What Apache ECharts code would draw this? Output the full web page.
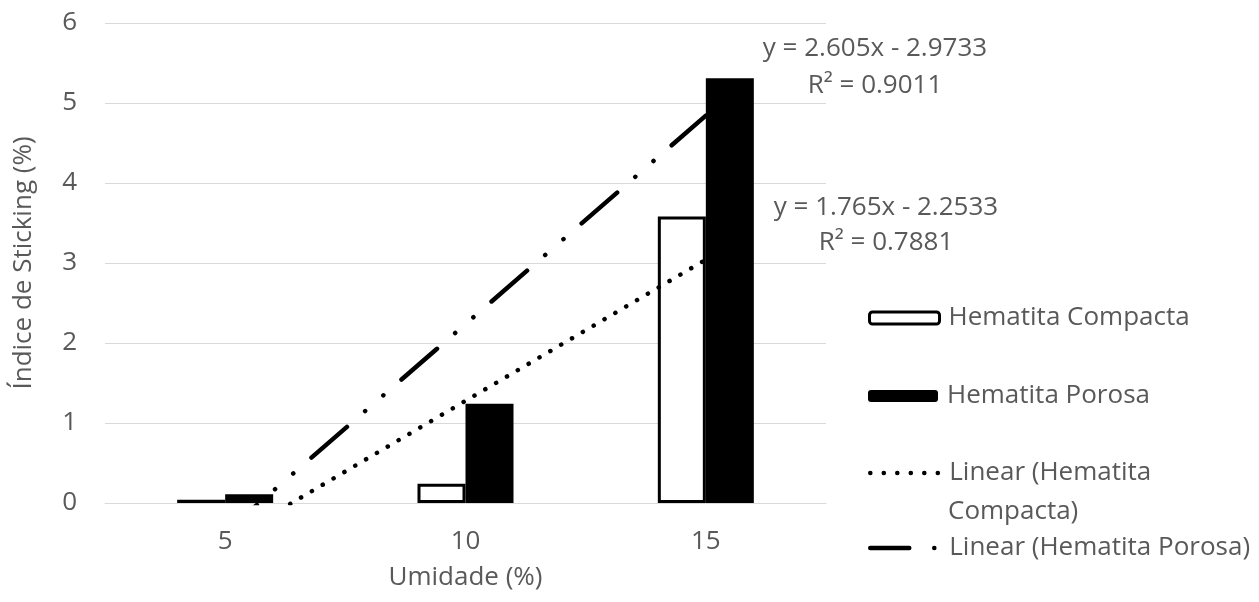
<!DOCTYPE html>
<html>
<head>
<meta charset="utf-8">
<script src="https://cdn.jsdelivr.net/npm/echarts@6/dist/echarts.min.js"></script>
<style>
html,body{margin:0;padding:0;background:#fff;}
#chart{width:1259px;height:602px;}
</style>
</head>
<body>
<div id="chart"></div>
<script>
// ---- data ----
const categories = ['5', '10', '15'];
const compacta = [0.04, 0.24, 3.58];
const porosa = [0.11, 1.24, 5.31];
const seriesNames = ['Hematita Compacta', 'Hematita Porosa'];
const trendNames = ['Linear (Hematita Compacta)', 'Linear (Hematita Porosa)'];
const trendSlope = [1.765, 2.605];
const trendIntercept = [-2.2533, -2.9733];
const trendR2 = ['0.7881', '0.9011'];
const yTicks = [0, 1, 2, 3, 4, 5, 6];

const FONT = '"Open Sans", "Noto Sans", sans-serif';
const FS = 26;
const GRAY = '#595959';

function trendPoints(i) {
  const xs = [1, categories.length];
  return xs.map(x => [x, trendSlope[i] * x + trendIntercept[i]]);
}
function eqText(i) {
  const s = trendIntercept[i] < 0 ? ' - ' : ' + ';
  return 'y = ' + trendSlope[i] + 'x' + s + Math.abs(trendIntercept[i]) + '\nR\u00B2 = ' + trendR2[i];
}

const chart = echarts.init(document.getElementById('chart'), null, {renderer: 'canvas'});

const legendText = {color: GRAY, fontFamily: FONT, fontSize: FS, lineHeight: 30, padding: [0, 0, 0, 4]};
const legendBase = {
  orient: 'vertical',
  left: 868,
  padding: 0,
  itemWidth: 70,
  itemHeight: 12,
  selectedMode: false,
  textStyle: legendText
};
const hiddenSymbol = {color: 'rgba(0,0,0,0)', borderColor: 'rgba(0,0,0,0)', borderWidth: 0};

const option = {
  animation: false,
  backgroundColor: '#fff',
  grid: {left: 105, right: 433, top: 23, bottom: 99, containLabel: false},
  xAxis: [{
    type: 'category',
    data: categories,
    name: 'Umidade (%)',
    nameLocation: 'middle',
    nameGap: 62,
    nameTextStyle: {color: GRAY, fontFamily: FONT, fontSize: FS},
    axisLine: {lineStyle: {color: '#d9d9d9', width: 1}},
    axisTick: {show: false},
    axisLabel: {color: GRAY, fontFamily: FONT, fontSize: FS, margin: 26}
  }, {
    type: 'value',
    min: 0.5,
    max: categories.length + 0.5,
    show: false
  }],
  yAxis: {
    type: 'value',
    min: yTicks[0],
    max: yTicks[yTicks.length - 1],
    interval: 1,
    name: 'Índice de Sticking (%)',
    nameLocation: 'middle',
    nameGap: 68,
    nameTextStyle: {color: GRAY, fontFamily: FONT, fontSize: FS},
    axisLine: {show: false},
    axisTick: {show: false},
    axisLabel: {color: GRAY, fontFamily: FONT, fontSize: FS, margin: 28},
    splitLine: {lineStyle: {color: '#d9d9d9', width: 1}}
  },
  legend: [
    Object.assign({}, legendBase, {top: 303, data: [{name: seriesNames[0], itemStyle: {color: '#fff', borderColor: '#000', borderWidth: 3}}]}),
    Object.assign({}, legendBase, {top: 381, data: [{name: seriesNames[1], itemStyle: {color: '#000', borderColor: '#000', borderWidth: 0}}]}),
    Object.assign({}, legendBase, {top: 458, formatter: () => 'Linear (Hematita',
      data: [{name: trendNames[0], itemStyle: hiddenSymbol, lineStyle: {color: '#000', width: 4.5, type: [0.1, 13.4], cap: 'round'}}]}),
    Object.assign({}, legendBase, {top: 533,
      data: [{name: trendNames[1], itemStyle: hiddenSymbol, lineStyle: {color: '#000', width: 4.5, type: [44, 25, 0.1, 300], cap: 'round'}}]})
  ],
  series: [{
    name: seriesNames[0],
    type: 'bar',
    data: compacta,
    barWidth: 48,
    barGap: '0%',
    itemStyle: {color: '#fff', borderColor: '#000', borderWidth: 3}
  }, {
    name: seriesNames[1],
    type: 'bar',
    data: porosa,
    barWidth: 48,
    barGap: '0%',
    itemStyle: {color: '#000', borderColor: '#000', borderWidth: 0}
  }, {
    name: trendNames[0],
    type: 'line',
    xAxisIndex: 1,
    data: trendPoints(0),
    symbol: 'none',
    clip: true,
    color: '#000',
    lineStyle: {color: '#000', width: 4.5, type: [0.1, 12.47], cap: 'round'},
    z: 5
  }, {
    name: trendNames[1],
    type: 'line',
    xAxisIndex: 1,
    data: trendPoints(1),
    symbol: 'none',
    clip: true,
    color: '#000',
    lineStyle: {color: '#000', width: 4.5, type: [47, 24, 0.1, 24, 0.1, 24], dashOffset: 5, cap: 'round'},
    z: 5
  }],
  graphic: [{
    type: 'text', x: 875, y: 30, z: 100,
    style: {text: eqText(1), fill: GRAY, font: FS + 'px ' + FONT, lineHeight: 37, align: 'center', verticalAlign: 'top'}
  }, {
    type: 'text', x: 886, y: 190, z: 100,
    style: {text: eqText(0), fill: GRAY, font: FS + 'px ' + FONT, lineHeight: 35, align: 'center', verticalAlign: 'top'}
  }, {
    type: 'text', left: 948, top: 512 - 15,
    style: {text: 'Compacta)', fill: GRAY, font: FS + 'px ' + FONT, lineHeight: 30}
  }]
};
chart.setOption(option);
</script>
</body>
</html>
